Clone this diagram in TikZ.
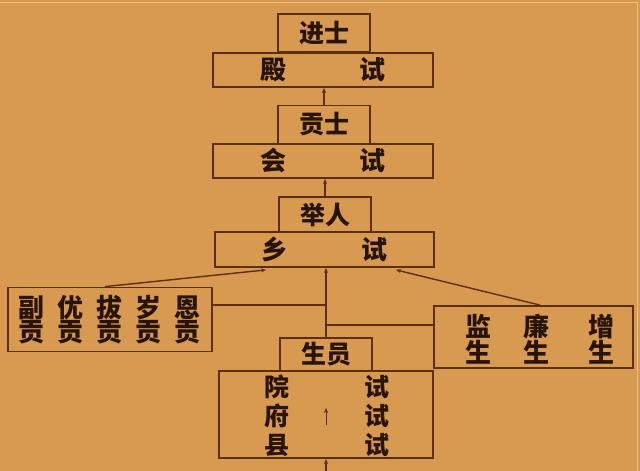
\documentclass[tikz,border=0pt]{standalone}
\usepackage{fontspec}
\newfontfamily\cjk{Noto Sans CJK SC}
\usetikzlibrary{arrows.meta}
\definecolor{panel}{RGB}{216,154,80}
\definecolor{rim}{RGB}{92,48,14}
\definecolor{ink}{RGB}{40,20,6}
\definecolor{edge}{RGB}{236,190,130}

\begin{document}
\begin{tikzpicture}
[
    x=1pt,y=-1pt,
    mybox/.style={rectangle,draw=rim,line width=1.8pt,inner sep=0pt,text=ink},
    title/.style={mybox,minimum width=92pt,minimum height=38pt,font=\cjk\bfseries\fontsize{25}{25}\selectfont},
    exam/.style={mybox,minimum width=220pt,minimum height=34pt,font=\cjk\bfseries\fontsize{26}{26}\selectfont},
    group/.style={mybox,align=center,font=\cjk\bfseries\fontsize{26}{24}\selectfont},
    word/.style={text=ink,inner sep=0pt,align=center,font=\cjk\bfseries\fontsize{25}{29}\selectfont},
    line/.style={rim,line width=1.4pt},
    up/.style={line,-{Stealth[length=5pt,width=4pt]}},
]

\useasboundingbox (0,0) rectangle (640,471);
\fill[panel] (0,0) rectangle (640,471);
\draw[edge,line width=1pt] (0,2) -- (637,2) -- (637,471);

% top: palace exam
\node[exam] (dianshi) at (323,70) {殿\hspace{74pt}试};
\node[title] (jinshi) at (324,33) {进士};

% metropolitan exam
\node[exam] (huishi) at (323,161) {会\hspace{74pt}试};
\node[title] (gongshi) at (324,124.5) {贡士};

% provincial exam
\node[exam,minimum width=219pt,minimum height=35pt] (xiangshi) at (324.5,249.5) {乡\hspace{74pt}试};
\node[title,minimum height=35pt] (juren) at (325,214.5) {举人};

% side groups
\node[group,minimum width=204pt,minimum height=64pt] (gong) at (110,319.5)
  {副\hspace{13pt}优\hspace{13pt}拔\hspace{13pt}岁\hspace{13pt}恩\\
   贡\hspace{13pt}贡\hspace{13pt}贡\hspace{13pt}贡\hspace{13pt}贡};
\node[mybox,minimum width=199pt,minimum height=62pt] (jiansheng) at (533.5,337) {};
\node[group,draw=none] (sheng) at (540,339)
  {监\hspace{33pt}廉\hspace{39pt}增\\
   生\hspace{33pt}生\hspace{39pt}生};

% entrance exams
\node[mybox,minimum width=214pt,minimum height=87pt] (yuanshi) at (326,414.5) {};
\node[title,minimum height=33pt] (shengyuan) at (326,354.5) {生员};
\node[word] (yuan) at (277,416) {院\\府\\县};
\node[word] (shi) at (377,416) {试\\试\\试};

\coordinate (entry) at (326,471);
\coordinate (tail) at (326,425);
\coordinate (head) at (326,408);

\draw[up] (gongshi.north) -- (gongshi.north |- dianshi.south);
\draw[up] (juren.north) -- (juren.north |- huishi.south);
\draw[up] (shengyuan.north) -- (shengyuan.north |- xiangshi.south);
\draw[line] (gong.east |- 0,305) -- (shengyuan.north |- 0,305);
\draw[line] (shengyuan.north |- 0,325) -- (jiansheng.west |- 0,325);
\draw[up] (gong.north -| 105,0) -- ([xshift=52pt,yshift=-2pt]xiangshi.south west);
\draw[up] (jiansheng.north -| 540,0) -- ([xshift=-39pt,yshift=-2pt]xiangshi.south east);
\draw[up] (entry) -- (entry |- yuanshi.south);
\draw[up,line width=1pt] (tail) -- (head);
\end{tikzpicture}
\end{document}
